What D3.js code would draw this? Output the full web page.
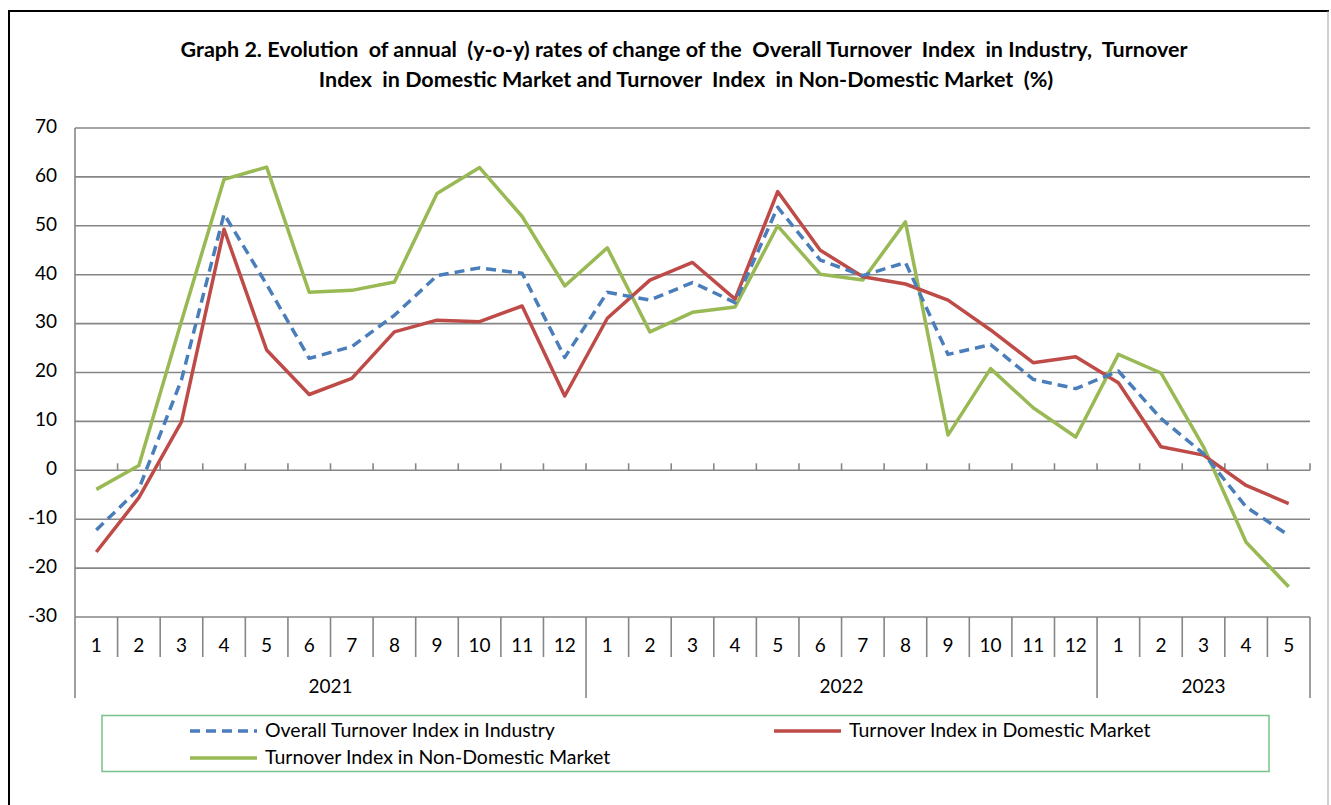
<!DOCTYPE html>
<html>
<head>
<meta charset="utf-8">
<script src="https://cdn.jsdelivr.net/npm/d3@7"></script>
<style>
  body { margin: 0; background: #fff; }
  svg text { font-family: Lato, "Open Sans", sans-serif; fill: #000; }
  .title { font-size: 21.5px; font-weight: bold; white-space: pre; }
  .tick-label { font-size: 19px; }
  .legend-label { font-size: 19.5px; }
</style>
</head>
<body>
<div class="chart-1"></div>
<script>
// month labels along the category axis
const months = ["1","2","3","4","5","6","7","8","9","10","11","12",
                "1","2","3","4","5","6","7","8","9","10","11","12",
                "1","2","3","4","5"];
const years = ["2021", "2022", "2023"];
const yearCounts = [12, 12, 5];
const yTicks = [-30, -20, -10, 0, 10, 20, 30, 40, 50, 60, 70];

// y-o-y rates (%)
const overall = [-12.2, -3.8, 18.5, 52.4, 38.0, 22.9, 25.3, 31.7, 39.8, 41.4, 40.3, 23.1,
                 36.4, 34.8, 38.4, 34.3, 53.8, 43.0, 39.8, 42.5, 23.7, 25.7, 18.6, 16.7,
                 20.3, 10.6, 3.4, -7.5, -13.3];
const domestic = [-16.7, -5.6, 9.9, 49.3, 24.6, 15.5, 18.8, 28.3, 30.7, 30.4, 33.6, 15.2,
                  31.1, 38.9, 42.5, 35.0, 57.0, 45.0, 39.6, 38.1, 34.8, 28.7, 22.0, 23.2,
                  17.9, 4.8, 3.1, -3.1, -6.8];
const nonDomestic = [-3.9, 1.0, 30.5, 59.5, 62.0, 36.4, 36.8, 38.5, 56.6, 61.9, 51.9, 37.7,
                     45.5, 28.3, 32.3, 33.4, 50.0, 40.1, 38.9, 50.8, 7.2, 20.8, 12.8, 6.8,
                     23.7, 19.9, 4.8, -14.7, -23.8];

const seriesNames = ["Overall Turnover Index in Industry",
                     "Turnover Index in Domestic Market",
                     "Turnover Index in Non-Domestic Market"];

const svg = d3.select(".chart-1")
  .append("svg")
  .attr("width", 1331)
  .attr("height", 805);

// outer frame
svg.append("line").attr("x1", 9).attr("x2", 9).attr("y1", 11).attr("y2", 805)
  .attr("stroke", "#000").attr("stroke-width", 2);
svg.append("line").attr("x1", 8).attr("x2", 1329).attr("y1", 11).attr("y2", 11)
  .attr("stroke", "#000").attr("stroke-width", 2);
svg.append("line").attr("x1", 1328).attr("x2", 1328).attr("y1", 11).attr("y2", 805)
  .attr("stroke", "#a0a0a0").attr("stroke-width", 1);

// title (double spaces kept as in the original)
const title = svg.append("text").attr("class", "title").attr("text-anchor", "middle");
title.append("tspan").attr("x", 684).attr("y", 57)
  .text("Graph 2. Evolution  of annual  (y-o-y) rates of change of the  Overall Turnover  Index  in Industry,  Turnover");
title.append("tspan").attr("x", 686).attr("y", 87)
  .text("Index  in Domestic Market and Turnover  Index  in Non-Domestic Market  (%)");

const plot = { left: 75, right: 1310, top: 128, bottom: 617 };

const x = d3.scaleBand()
  .domain(d3.range(months.length))
  .range([plot.left, plot.right]);

const y = d3.scaleLinear()
  .domain([-30, 70])
  .range([plot.bottom, plot.top]);

const gridColor = "#868686";

// horizontal gridlines
svg.append("g")
  .selectAll("line")
  .data(yTicks)
  .join("line")
  .attr("x1", plot.left)
  .attr("x2", plot.right)
  .attr("y1", d => y(d))
  .attr("y2", d => y(d))
  .attr("stroke", gridColor)
  .attr("stroke-width", 1.6);

// y axis line
svg.append("line")
  .attr("x1", plot.left).attr("x2", plot.left)
  .attr("y1", plot.top).attr("y2", plot.bottom)
  .attr("stroke", gridColor).attr("stroke-width", 1.6);

// y tick labels
svg.append("g")
  .selectAll("text")
  .data(yTicks)
  .join("text")
  .attr("class", "tick-label")
  .attr("x", 57)
  .attr("y", d => y(d))
  .attr("text-anchor", "end")
  .attr("dominant-baseline", "middle")
  .text(d => d);

// boundaries between categories
const bounds = d3.range(months.length + 1).map(i => i < months.length ? x(i) : plot.right);

// small ticks pointing up from the zero line
svg.append("g")
  .selectAll("line")
  .data(bounds.slice(1))
  .join("line")
  .attr("x1", d => d).attr("x2", d => d)
  .attr("y1", y(0) - 7).attr("y2", y(0))
  .attr("stroke", gridColor).attr("stroke-width", 1.6);

// separators below the plot for months
svg.append("g")
  .selectAll("line")
  .data(bounds)
  .join("line")
  .attr("x1", d => d).attr("x2", d => d)
  .attr("y1", plot.bottom).attr("y2", 657)
  .attr("stroke", gridColor).attr("stroke-width", 1.6);

// year separators
const yearStarts = d3.cumsum([0, ...yearCounts]);
svg.append("g")
  .selectAll("line")
  .data(yearStarts)
  .join("line")
  .attr("x1", d => bounds[d]).attr("x2", d => bounds[d])
  .attr("y1", 657).attr("y2", 698)
  .attr("stroke", gridColor).attr("stroke-width", 1.6);

// month labels
svg.append("g")
  .selectAll("text")
  .data(months)
  .join("text")
  .attr("class", "tick-label")
  .attr("x", (d, i) => x(i) + x.bandwidth() / 2)
  .attr("y", 647)
  .attr("text-anchor", "middle")
  .attr("dominant-baseline", "middle")
  .text(d => d);

// year labels
svg.append("g")
  .selectAll("text")
  .data(years)
  .join("text")
  .attr("class", "tick-label")
  .attr("x", (d, i) => (bounds[yearStarts[i]] + bounds[yearStarts[i + 1]]) / 2)
  .attr("y", 688)
  .attr("text-anchor", "middle")
  .attr("dominant-baseline", "middle")
  .text(d => d);

// lines
const series = [
  { name: seriesNames[0], values: overall, color: "#4a7ebb", dash: "10,6" },
  { name: seriesNames[1], values: domestic, color: "#be4b48", dash: null },
  { name: seriesNames[2], values: nonDomestic, color: "#98b954", dash: null }
];

const line = d3.line()
  .x((d, i) => x(i) + x.bandwidth() / 2)
  .y(d => y(d));

// draw order: green, red, blue on top
[series[2], series[1], series[0]].forEach(s => {
  svg.append("path")
    .attr("d", line(s.values))
    .attr("fill", "none")
    .attr("stroke", s.color)
    .attr("stroke-width", 3.5)
    .attr("stroke-dasharray", s.dash)
    .attr("stroke-linejoin", "round");
});

// legend
svg.append("rect")
  .attr("x", 102).attr("y", 715.5)
  .attr("width", 1167).attr("height", 56)
  .attr("fill", "none")
  .attr("stroke", "#77c28a")
  .attr("stroke-width", 1.5);

const legendPos = [
  { x: 190, y: 731 },
  { x: 774, y: 731 },
  { x: 190, y: 758 }
];

const legend = svg.append("g")
  .selectAll("g")
  .data(series)
  .join("g")
  .attr("transform", (d, i) => `translate(${legendPos[i].x},${legendPos[i].y})`);

legend.append("line")
  .attr("x1", 0).attr("x2", 67)
  .attr("y1", 0).attr("y2", 0)
  .attr("stroke", d => d.color)
  .attr("stroke-width", 3.5)
  .attr("stroke-dasharray", d => d.dash);

legend.append("text")
  .attr("class", "legend-label")
  .attr("x", 75)
  .attr("y", 1)
  .attr("dominant-baseline", "middle")
  .text(d => d.name);
</script>
</body>
</html>
